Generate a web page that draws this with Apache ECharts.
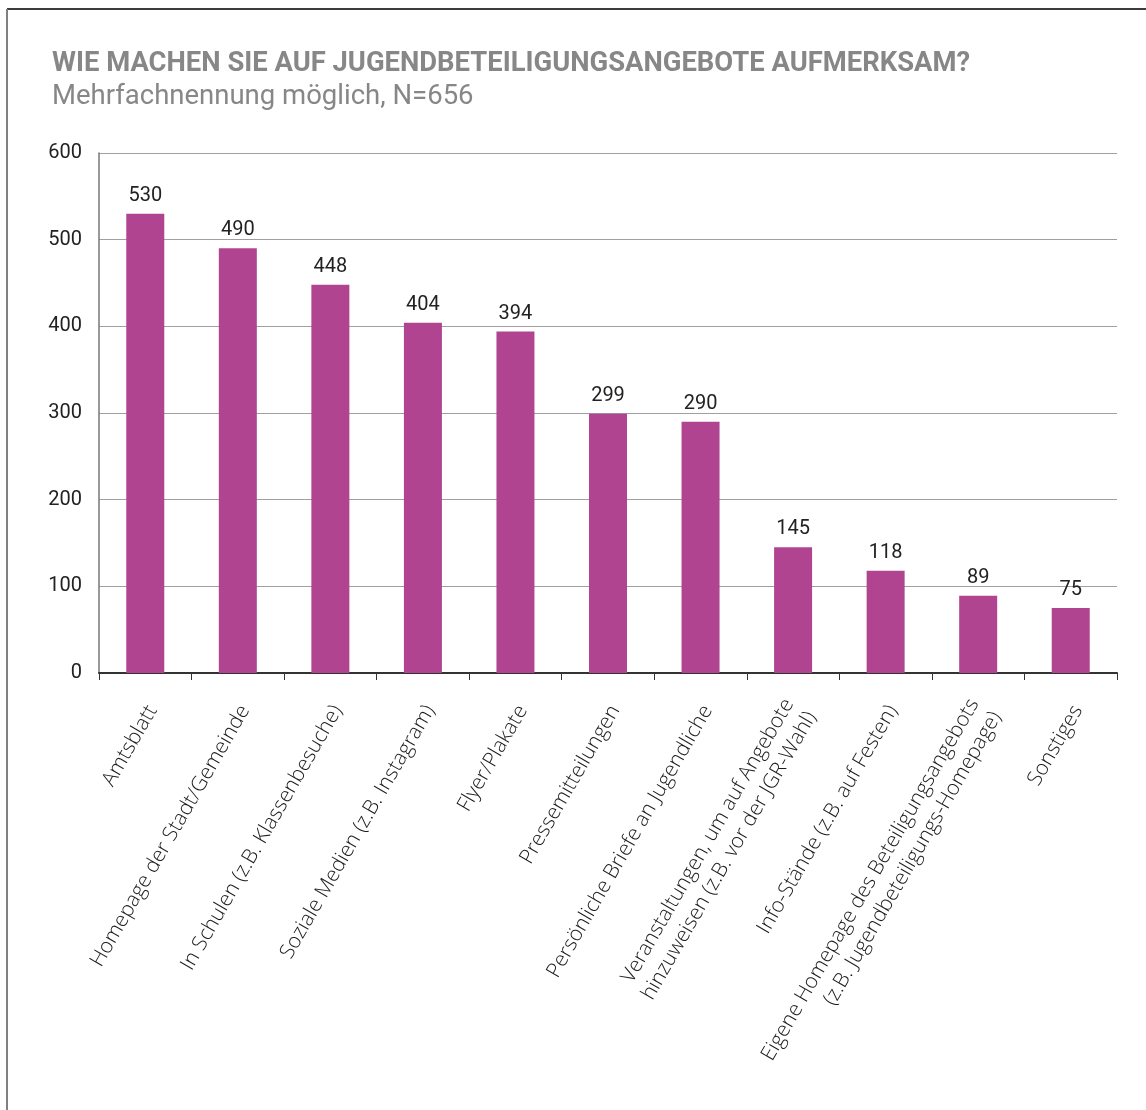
<!DOCTYPE html>
<html>
<head>
<meta charset="utf-8">
<script src="https://cdn.jsdelivr.net/npm/echarts@6/dist/echarts.min.js"></script>
<style>
html,body{margin:0;padding:0;background:#fff;}
#chart{width:1146px;height:1110px;}
</style>
</head>
<body>
<div id="chart"></div>
<script>
const titleText = 'WIE MACHEN SIE AUF JUGENDBETEILIGUNGSANGEBOTE AUFMERKSAM?';
const subtitleText = 'Mehrfachnennung möglich, N=656';
const categories = [
  'Amtsblatt',
  'Homepage der Stadt/Gemeinde',
  'In Schulen (z.B. Klassenbesuche)',
  'Soziale Medien (z.B. Instagram)',
  'Flyer/Plakate',
  'Pressemitteilungen',
  'Persönliche Briefe an Jugendliche',
  'Veranstaltungen, um auf Angebote\nhinzuweisen (z.B. vor der JGR-Wahl)',
  'Info-Stände (z.B. auf Festen)',
  'Eigene Homepage des Beteiligungsangebots\n(z.B. Jugendbeteiligungs-Homepage)',
  'Sonstiges'
];
const values = [530, 490, 448, 404, 394, 299, 290, 145, 118, 89, 75];
const yTicks = [0, 100, 200, 300, 400, 500, 600];

const chart = echarts.init(document.getElementById('chart'));
chart.setOption({
  animation: false,
  backgroundColor: '#fff',
  title: [
    { text: titleText, left: 47, top: 46,
      textStyle: { fontFamily: 'Roboto', fontWeight: 'bold', fontSize: 27.4, color: '#878787' } },
    { text: subtitleText, left: 47, top: 78,
      textStyle: { fontFamily: 'Roboto', fontWeight: 'normal', fontSize: 27.5, color: '#878787' } }
  ],
  graphic: [
    { type: 'line', shape: { x1: 7, y1: 9, x2: 1146, y2: 9 }, style: { stroke: '#3c3c3c', lineWidth: 2 } },
    { type: 'line', shape: { x1: 7, y1: 9, x2: 7, y2: 1110 }, style: { stroke: '#808080', lineWidth: 2 } }
  ],
  grid: [
    { left: 99, right: 29, top: 153, bottom: 437, containLabel: false },
    { left: 106, right: 22, top: 153, bottom: 437, containLabel: false }
  ],
  xAxis: [{
    type: 'category',
    gridIndex: 0,
    data: categories,
    axisLine: { lineStyle: { color: '#333', width: 2 } },
    axisTick: { show: true, interval: 0, length: 7, lineStyle: { color: '#333', width: 1 } },
    axisLabel: { show: false, interval: 0 }
  }, {
    type: 'category',
    gridIndex: 1,
    data: categories,
    axisLine: { show: false },
    axisTick: { show: false },
    splitLine: { show: false },
    axisLabel: {
      rotate: 60, interval: 0, margin: 34,
      fontFamily: 'Open Sans', fontWeight: 300, fontSize: 20.8, color: '#1a1a1a', lineHeight: 26
    }
  }],
  yAxis: [{
    type: 'value',
    gridIndex: 0,
    min: yTicks[0], max: yTicks[yTicks.length - 1], interval: 100,
    axisLine: { show: true, lineStyle: { color: '#777', width: 1.5 } },
    axisTick: { show: false },
    splitLine: { lineStyle: { color: '#a0a0a0', width: 1 } },
    axisLabel: { margin: 17, fontFamily: 'Roboto', fontSize: 20, color: '#222' }
  }, {
    type: 'value',
    gridIndex: 1,
    min: yTicks[0], max: yTicks[yTicks.length - 1], interval: 100,
    show: false
  }],
  series: [{
    type: 'bar',
    xAxisIndex: 0,
    yAxisIndex: 0,
    data: values,
    barWidth: 38,
    itemStyle: { color: '#b04490' },
    label: { show: true, position: 'top', distance: 8, fontFamily: 'Roboto', fontSize: 20, color: '#222' }
  }]
});
</script>
</body>
</html>
